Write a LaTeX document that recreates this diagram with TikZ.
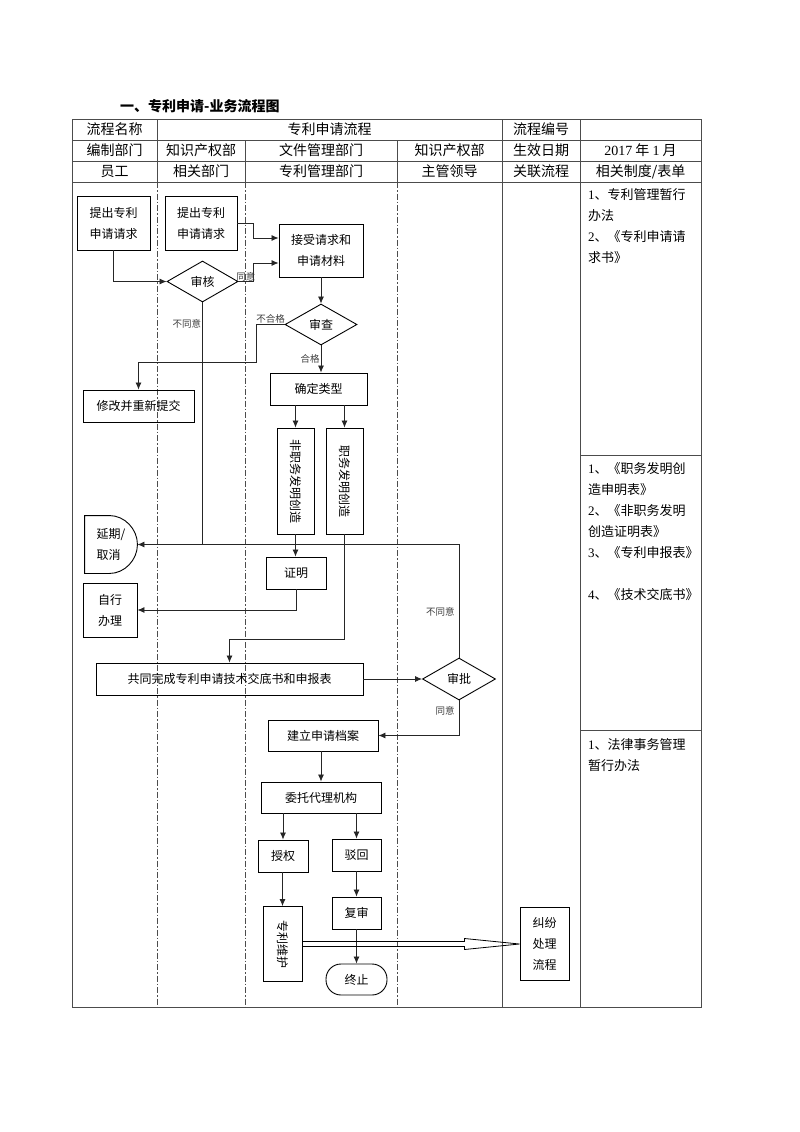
\documentclass[tikz,border=0pt]{standalone}
\usepackage{fontspec}
\usepackage{graphicx}
\setmainfont{Noto Sans CJK SC}
\newfontfamily\lat{Liberation Serif}
\usetikzlibrary{shapes.geometric,arrows.meta,calc}
\begin{document}
\begin{tikzpicture}[x=1pt,y=-1pt,
 box/.style={draw, line width=0.9pt, inner sep=0pt, align=center, font=\fontsize{12}{21}\selectfont},
 dia/.style={draw, diamond, line width=0.9pt, inner sep=0pt, font=\fontsize{12}{14}\selectfont},
 arr/.style={line width=0.8pt, draw=black!85, -{Latex[length=7pt,width=6pt]}},
 ln/.style={line width=0.8pt, draw=black!85},
 lbl/.style={font=\fontsize{9.5}{11}\selectfont, text=black!75, inner sep=1pt},
 tab/.style={line width=0.8pt, draw=black!70},
 dd/.style={line width=0.7pt, draw=black!70, dash pattern=on 6pt off 2pt on 1.5pt off 2pt},
 hd/.style={font=\fontsize{14}{16}\selectfont, inner sep=0pt},
 side/.style={font=\fontsize{13}{21}\selectfont, align=left, anchor=north west, inner sep=0pt},
]
\useasboundingbox (0,0) rectangle (800,1132);
\fill[white] (0,0) rectangle (800,1132);

% title
\node[font=\fontsize{14}{16}\selectfont\bfseries, anchor=west, inner sep=0pt] (title) at (120,106) {一、专利申请-业务流程图};

% table
\draw[tab] (72,119) rectangle (701,1007);
\foreach \y in {140,161,182} \draw[tab] (72,\y) -- (701,\y);
\foreach \x in {157,502,580} \draw[tab] (\x,119) -- (\x,140);
\foreach \x in {157,245,397,502,580} \draw[tab] (\x,140) -- (\x,182);
\foreach \x in {502,580} \draw[tab] (\x,182) -- (\x,1007);
\foreach \x in {157,245,397} \draw[dd] (\x,182) -- (\x,1007);
\draw[tab] (580,455) -- (701,455);
\draw[tab] (580,730) -- (701,730);

% header texts
\node[hd] (h11) at (114.5,129.5) {流程名称};
\node[hd] (h12) at (329.5,129.5) {专利申请流程};
\node[hd] (h13) at (541,129.5) {流程编号};
\node[hd] (h21) at (114.5,150.5) {编制部门};
\node[hd] (h22) at (201,150.5) {知识产权部};
\node[hd] (h23) at (321,150.5) {文件管理部门};
\node[hd] (h24) at (449.5,150.5) {知识产权部};
\node[hd] (h25) at (541,150.5) {生效日期};
\node[hd] (h26) at (640.5,150.5) {{\lat 2017} 年 {\lat 1} 月};
\node[hd] (h31) at (114.5,171.5) {员工};
\node[hd] (h32) at (201,171.5) {相关部门};
\node[hd] (h33) at (321,171.5) {专利管理部门};
\node[hd] (h34) at (449.5,171.5) {主管领导};
\node[hd] (h35) at (541,171.5) {关联流程};
\node[hd] (h36) at (640.5,171.5) {相关制度/表单};

% right column
\node[side] (r1) at (588,188) {{\lat 1}、专利管理暂行\\办法\\{\lat 2}、《专利申请请\\求书》};
\node[side] (r2) at (588,462) {{\lat 1}、《职务发明创\\造申明表》\\{\lat 2}、《非职务发明\\创造证明表》\\{\lat 3}、《专利申报表》\\[21pt]{\lat 4}、《技术交底书》};
\node[side] (r3) at (588,738) {{\lat 1}、法律事务管理\\暂行办法};

% flow nodes
\node[box, minimum width=73pt, minimum height=54pt] (b1) at (113.5,223) {提出专利\\申请请求};
\node[box, minimum width=72pt, minimum height=54pt] (b2) at (201,223) {提出专利\\申请请求};
\node[box, minimum width=84pt, minimum height=53pt] (b3) at (321,250.5) {接受请求和\\申请材料};
\node[dia, minimum width=71pt, minimum height=41pt] (d1) at (202.5,281.5) {审核};
\node[dia, minimum width=72pt, minimum height=41pt] (d2) at (321,324.5) {审查};
\node[box, minimum width=97pt, minimum height=32pt] (b4) at (318.5,389) {确定类型};
\node[box, minimum width=111pt, minimum height=32pt] (b5) at (138.5,406) {修改并重新提交};
\node[box, minimum width=37pt, minimum height=106pt] (b6) at (295.5,481) {\rotatebox{-90}{非职务发明创造}};
\node[box, minimum width=37pt, minimum height=106pt] (b7) at (344.5,481) {\rotatebox{-90}{职务发明创造}};
\node[box, draw=none, minimum width=52pt, minimum height=57pt, align=left] (b8) at (111,544.5) {延期/\\取消};
\draw[line width=0.9pt] (b8.north west) -- ++(25,0) .. controls ++(15,0) and ++(0,-15.5) .. (b8.east) .. controls ++(0,15.5) and ++(15,0) .. ([xshift=25pt]b8.south west) -- (b8.south west) -- cycle;
\node[box, minimum width=60pt, minimum height=32pt] (b9) at (296,573) {证明};
\node[box, minimum width=54pt, minimum height=54pt] (b10) at (110,610) {自行\\办理};
\node[box, minimum width=267pt, minimum height=32pt] (b11) at (229.5,679) {共同完成专利申请技术交底书和申报表};
\node[dia, minimum width=73pt, minimum height=42pt] (d3) at (459,679) {审批};
\node[box, minimum width=110pt, minimum height=31pt] (b12) at (323,735.5) {建立申请档案};
\node[box, minimum width=120pt, minimum height=31pt] (b13) at (321,797.5) {委托代理机构};
\node[box, minimum width=50pt, minimum height=32pt] (b14) at (283,856) {授权};
\node[box, minimum width=49pt, minimum height=32pt] (b15) at (356.5,855) {驳回};
\node[box, minimum width=39pt, minimum height=75pt] (b16) at (282.5,944) {\rotatebox{-90}{专利维护}};
\node[box, minimum width=49pt, minimum height=32pt] (b17) at (356.5,913) {复审};
\node[box, rounded corners=15pt, minimum width=61pt, minimum height=31pt] (b18) at (356.5,979.5) {终止};
\node[box, minimum width=49pt, minimum height=73pt] (b19) at (544.5,944) {纠纷\\处理\\流程};

% connectors
\draw[arr] (b1.south) |- (d1.west);
\draw[arr] (b2.east) -- ++(16,0) |- ([yshift=12.5pt]b3.west);
\draw[arr] (d1.east) -- node[lbl, above=-1pt] {同意} ++(15,0) |- ([yshift=-12.5pt]b3.west);
\draw[arr] (b3.south) -- (d2.north);
\draw[arr] (d2.south) -- node[lbl, left] {合格} (d2.south |- b4.north);
\draw[arr] (d2.west) -- node[lbl, above] {不合格} ++(-28,0) -- ++(0,37.5) -| (b5.north);
\draw[ln] (d1.south) -- node[lbl, left, pos=0.09] {不同意} (d1.south |- b8.east);
\draw[arr] (d3.north) -- node[lbl, left=3pt, pos=0.4] {不同意} (d3.north |- b8.east) -- (b8.east);
\draw[arr] (b4.south -| b6.north) -- (b6.north);
\draw[arr] (b4.south -| b7.north) -- (b7.north);
\draw[arr] (b6.south) -- (b6.south |- b9.north);
\draw[arr] (b9.south) |- (b10.east);
\draw[arr] (b7.south) |- ([yshift=23pt]b11.north) -- (b11.north);
\draw[arr] (b11.east) -- (d3.west);
\draw[arr] (d3.south) |- node[lbl, left=3pt, pos=0.15] {同意} (b12.east);
\draw[arr] (b13.north |- b12.south) -- (b13.north);
\draw[arr] (b14.north |- b13.south) -- (b14.north);
\draw[arr] (b15.north |- b13.south) -- (b15.north);
\draw[arr] (b14.south -| b16.north) -- (b16.north);
\draw[arr] (b15.south) -- (b17.north);
\draw[arr] (b17.south) -- (b18.north);
\draw[line width=0.8pt] ($(b16.east)+(0,-2.5)$) -- ($(b19.west)+(-55,-2.5)$) -- ($(b19.west)+(-55,-5.5)$) -- (b19.west) -- ($(b19.west)+(-55,5.5)$) -- ($(b19.west)+(-55,2.5)$) -- ($(b16.east)+(0,2.5)$);
\end{tikzpicture}
\end{document}
